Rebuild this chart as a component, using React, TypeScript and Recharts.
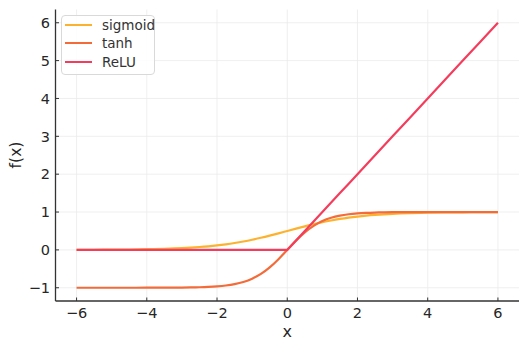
import React from 'react';
import { LineChart, Line, XAxis, YAxis, CartesianGrid, Label } from 'recharts';

const xValues = [
  -6, -5.5, -5, -4.5, -4, -3.5,
  -3, -2.75, -2.5, -2.25, -2, -1.75, -1.5, -1.25, -1, -0.75, -0.5, -0.25,
  0, 0.25, 0.5, 0.75, 1, 1.25, 1.5, 1.75, 2, 2.25, 2.5, 2.75, 3,
  3.5, 4, 4.5, 5, 5.5, 6,
];
const sigmoidValues = [
  0.0025, 0.0041, 0.0067, 0.011, 0.018, 0.0293,
  0.0474, 0.0601, 0.0759, 0.0953, 0.1192, 0.148, 0.1824, 0.2227, 0.2689, 0.3208, 0.3775, 0.4378,
  0.5, 0.5622, 0.6225, 0.6792, 0.7311, 0.7773, 0.8176, 0.852, 0.8808, 0.9047, 0.9241, 0.9399, 0.9526,
  0.9707, 0.982, 0.989, 0.9933, 0.9959, 0.9975,
];
const tanhValues = [
  -1.0, -0.9999, -0.9999, -0.9998, -0.9993, -0.9982,
  -0.9951, -0.9918, -0.9866, -0.978, -0.964, -0.9414, -0.9051, -0.8483, -0.7616, -0.6351, -0.4621, -0.2449,
  0, 0.2449, 0.4621, 0.6351, 0.7616, 0.8483, 0.9051, 0.9414, 0.964, 0.978, 0.9866, 0.9918, 0.9951,
  0.9982, 0.9993, 0.9998, 0.9999, 0.9999, 1.0,
];
const reluValues = [
  0, 0, 0, 0, 0, 0,
  0, 0, 0, 0, 0, 0, 0, 0, 0, 0, 0, 0,
  0, 0.25, 0.5, 0.75, 1, 1.25, 1.5, 1.75, 2, 2.25, 2.5, 2.75, 3,
  3.5, 4, 4.5, 5, 5.5, 6,
];

const xTicks = [-6, -4, -2, 0, 2, 4, 6];
const yTicks = [-1, 0, 1, 2, 3, 4, 5, 6];
const seriesKeys = ['sigmoid', 'tanh', 'relu'];
const seriesNames = ['sigmoid', 'tanh', 'ReLU'];
const seriesColors = ['#FDB22F', '#F26B38', '#F43D5C'];
const xLabel = 'x';
const yLabel = 'f(x)';

const data = xValues.map((x, i) => ({
  x,
  sigmoid: sigmoidValues[i],
  tanh: tanhValues[i],
  relu: reluValues[i],
}));

const FONT = '"DejaVu Sans", sans-serif';
const TEXT = '#262626';
const fmt = (v: number) => (v < 0 ? '\u2212' + Math.abs(v) : String(v));

const XTick = (props: any) => {
  const { x, y, payload } = props;
  return (
    <g>
      <line x1={x} x2={x} y1={y} y2={y - 3.5} stroke="#333" strokeWidth={1} />
      <text x={x} y={y + 16.5} textAnchor="middle" fontSize={14.5} fontFamily={FONT} fill={TEXT}>
        {fmt(payload.value)}
      </text>
    </g>
  );
};

const YTick = (props: any) => {
  const { x, y, payload } = props;
  return (
    <g>
      <line x1={x} x2={x + 3.5} y1={y} y2={y} stroke="#333" strokeWidth={1} />
      <text x={x - 5.5} y={y + 5.2} textAnchor="end" fontSize={14.5} fontFamily={FONT} fill={TEXT}>
        {fmt(payload.value)}
      </text>
    </g>
  );
};

export default function App() {
  return (
    <div style={{ position: 'absolute', left: 0, top: 0, width: 528, height: 350, background: '#fff' }}>
      <LineChart
        width={528}
        height={350}
        data={data}
        margin={{ top: 9.5, right: 9, bottom: 9, left: 0 }}
      >
        <CartesianGrid stroke="#ebebeb" strokeWidth={0.8} horizontalValues={yTicks} verticalValues={xTicks} />
        <XAxis
          dataKey="x"
          type="number"
          domain={[-6.6, 6.6]}
          ticks={xTicks}
          allowDataOverflow
          height={40}
          tickSize={0}
          tickMargin={0}
          tick={<XTick />}
          axisLine={{ stroke: '#333', strokeWidth: 1.3 }}
          tickLine={false}
        >
          <Label
            content={() => (
              <text x={287.25} y={337} textAnchor="middle" fontSize={16} fontFamily={FONT} fill={TEXT}>
                {xLabel}
              </text>
            )}
          />
        </XAxis>
        <YAxis
          type="number"
          domain={[-1.35, 6.35]}
          ticks={yTicks}
          allowDataOverflow
          width={55.5}
          tickSize={0}
          tickMargin={0}
          tick={<YTick />}
          axisLine={{ stroke: '#333', strokeWidth: 1.3 }}
          tickLine={false}
        >
          <Label
            content={() => (
              <text
                x={21}
                y={155}
                textAnchor="middle"
                fontSize={15.5}
                fontFamily={FONT}
                fill={TEXT}
                transform="rotate(-90 21 155)"
              >
                {yLabel}
              </text>
            )}
          />
        </YAxis>
        {seriesKeys.map((k, i) => (
          <Line
            key={k}
            dataKey={k}
            name={seriesNames[i]}
            type={k === 'relu' ? 'linear' : 'monotone'}
            stroke={seriesColors[i]}
            strokeWidth={2.2}
            dot={false}
            activeDot={false}
            isAnimationActive={false}
          />
        ))}
      </LineChart>
      <div
        style={{
          position: 'absolute',
          left: 61,
          top: 15,
          width: 92,
          height: 58,
          border: '1px solid #d9d9d9',
          borderRadius: 4,
          background: 'rgba(255,255,255,0.85)',
          fontFamily: FONT,
        }}
      >
        {seriesNames.map((n, i) => (
          <div key={n}>
            <div
              style={{
                position: 'absolute',
                left: 3,
                top: 9 + i * 18.4 - 1,
                width: 27,
                height: 2,
                background: seriesColors[i],
              }}
            />
            <div
              style={{
                position: 'absolute',
                left: 40,
                top: 9 + i * 18.4 - 9,
                fontSize: 13.5,
                lineHeight: '18px',
                color: '#333',
                whiteSpace: 'nowrap',
              }}
            >
              {n}
            </div>
          </div>
        ))}
      </div>
    </div>
  );
}
